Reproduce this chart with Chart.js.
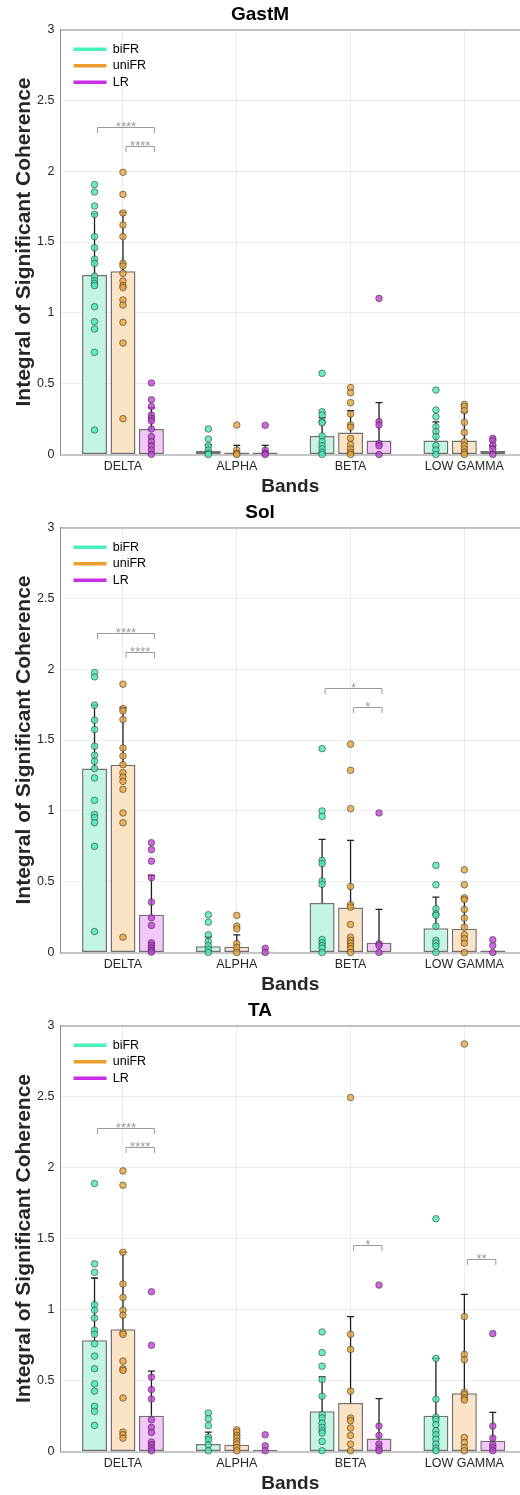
<!DOCTYPE html>
<html>
<head>
<meta charset="utf-8">
<script src="https://cdn.jsdelivr.net/npm/chart.js@4.4.1/dist/chart.umd.min.js"></script>
<style>
html, body { margin: 0; padding: 0; background: #fff; overflow: hidden; }
canvas { display: block; }
</style>
</head>
<body>
<canvas id="gastm" width="520" height="498"></canvas>
<canvas id="sol" width="520" height="498"></canvas>
<canvas id="ta" width="520" height="499"></canvas>
<script>
// ============================================================
// DATA
// ============================================================
const bands = ['DELTA', 'ALPHA', 'BETA', 'LOW GAMMA'];
const groups = ['biFR', 'uniFR', 'LR'];

// --- GastM ---  (rows: biFR, uniFR, LR; columns: bands)
const gastmMean = [
    [1.267, 0.025, 0.131, 0.098],
    [1.293, 0.015, 0.156, 0.098],
    [0.180, 0.015, 0.098, 0.025]
];
const gastmTop = [
    [1.70, 0.07, 0.26, 0.23],
    [1.71, 0.065, 0.31, 0.30],
    [0.33, 0.065, 0.366, 0.06]
];
const gastmBiFR = [
    [1.905, 1.853, 1.754, 1.695, 1.538, 1.460, 1.378, 1.349, 1.260, 1.227, 1.208, 1.192, 1.043, 0.938, 0.886, 0.721, 0.173],
    [0.180, 0.109, 0.062, 0.032, 0.008, 0],
    [0.573, 0.302, 0.279, 0.232, 0.224, 0.131, 0.091, 0.062, 0.039, 0.015, 0],
    [0.455, 0.314, 0.267, 0.196, 0.161, 0.126, 0.062, 0.032, 0]
];
const gastmUniFR = [
    [1.992, 1.836, 1.705, 1.620, 1.538, 1.349, 1.331, 1.279, 1.225, 1.192, 1.178, 1.091, 1.055, 0.933, 0.787, 0.253],
    [0.208, 0.030, 0.008, 0],
    [0.472, 0.436, 0.366, 0.286, 0.208, 0.192, 0.114, 0.070, 0.039, 0.015, 0],
    [0.354, 0.338, 0.309, 0.227, 0.156, 0.091, 0.062, 0.039, 0.015, 0]
];
const gastmLR = [
    [0.505, 0.387, 0.338, 0.279, 0.255, 0.236, 0.180, 0.126, 0.091, 0.062, 0.032, 0.001],
    [0.206, 0.030, 0.008, 0],
    [1.102, 0.232, 0.208, 0.077, 0.062, 0],
    [0.114, 0.098, 0.062, 0.039, 0]
];
// [band, from group, to group, level, label]
const gastmSig = [[0, 0, 2, 2.314, '****'], [0, 1, 2, 2.178, '****']];

// --- Sol ---
const solMean = [
    [1.298, 0.045, 0.349, 0.172],
    [1.326, 0.040, 0.318, 0.167],
    [0.266, 0.005, 0.068, 0.014]
];
const solTop = [
    [1.746, 0.11, 0.799, 0.391],
    [1.729, 0.125, 0.792, 0.386],
    [0.544, 0.005, 0.304, 0.014]
];
const solBiFR = [
    [1.976, 1.946, 1.746, 1.640, 1.574, 1.456, 1.392, 1.350, 1.298, 1.232, 1.074, 0.975, 0.952, 0.916, 0.749, 0.148],
    [0.266, 0.214, 0.125, 0.078, 0.049, 0.020, 0],
    [1.439, 0.999, 0.961, 0.650, 0.627, 0.504, 0.481, 0.092, 0.068, 0.049, 0.031, 0],
    [0.615, 0.478, 0.309, 0.273, 0.262, 0.186, 0.085, 0.066, 0.045, 0]
];
const solUniFR = [
    [1.894, 1.722, 1.706, 1.644, 1.444, 1.387, 1.326, 1.270, 1.239, 1.208, 1.152, 0.985, 0.916, 0.108],
    [0.262, 0.186, 0.167, 0.063, 0.035, 0],
    [1.470, 1.286, 1.015, 0.466, 0.337, 0.320, 0.198, 0.108, 0.085, 0.066, 0.045, 0.026, 0],
    [0.584, 0.478, 0.386, 0.374, 0.304, 0.243, 0.179, 0.125, 0.097, 0.066, 0]
];
const solLR = [
    [0.775, 0.726, 0.645, 0.528, 0.356, 0.245, 0.191, 0.068, 0.049, 0.031, 0.014, 0.002],
    [0.030, 0],
    [0.985, 0.061, 0.049, 0],
    [0.090, 0.049, 0]
];
const solSig = [
    [0, 0, 2, 2.252, '****'], [0, 1, 2, 2.118, '****'],
    [2, 0, 2, 1.868, '*'], [2, 1, 2, 1.734, '*']
];

// --- TA ---
const taMean = [
    [0.783, 0.052, 0.283, 0.252],
    [0.861, 0.047, 0.342, 0.410],
    [0.252, 0.010, 0.092, 0.075]
];
const taTop = [
    [1.222, 0.137, 0.526, 0.656],
    [1.403, 0.120, 0.950, 1.106],
    [0.566, 0.010, 0.373, 0.276]
];
const taBiFR = [
    [1.887, 1.321, 1.262, 1.033, 0.995, 0.939, 0.854, 0.825, 0.759, 0.672, 0.583, 0.476, 0.425, 0.318, 0.283, 0.184],
    [0.271, 0.231, 0.182, 0.101, 0.083, 0.047, 0.005],
    [0.842, 0.696, 0.601, 0.507, 0.389, 0.259, 0.236, 0.200, 0.170, 0.146, 0.130, 0.071, 0.005],
    [1.639, 0.656, 0.368, 0.241, 0.224, 0.189, 0.146, 0.118, 0.087, 0.052, 0.024, 0.005]
];
const taUniFR = [
    [1.976, 1.875, 1.403, 1.179, 1.085, 0.995, 0.960, 0.837, 0.825, 0.637, 0.583, 0.571, 0.377, 0.137, 0.118, 0.094],
    [0.153, 0.137, 0.113, 0.094, 0.071, 0.052, 0.028, 0.005],
    [2.493, 0.825, 0.719, 0.425, 0.236, 0.217, 0.165, 0.113, 0.052, 0.005],
    [2.870, 0.950, 0.684, 0.646, 0.417, 0.401, 0.377, 0.363, 0.099, 0.064, 0.028, 0.005]
];
const taLR = [
    [1.125, 0.748, 0.524, 0.436, 0.370, 0.224, 0.170, 0.134, 0.066, 0.047, 0.024, 0.005],
    [0.118, 0.040, 0.005],
    [1.172, 0.179, 0.113, 0.052, 0.024, 0.005],
    [0.830, 0.179, 0.094, 0.047, 0.028, 0.005]
];
const taSig = [
    [0, 0, 2, 2.281, '****'], [0, 1, 2, 2.144, '****'],
    [2, 1, 2, 1.453, '*'], [3, 1, 2, 1.356, '**']
];

// ============================================================
// STYLE
// ============================================================
const FONT = "'Liberation Sans', Arial, Helvetica, sans-serif";
const lineCols = ['rgb(72,240,190)', 'rgb(234,158,44)', 'rgb(200,45,228)'];
const fillCols = ['rgb(194,245,226)', 'rgb(251,228,197)', 'rgb(245,198,249)'];
const dotCols = ['rgba(72,232,184,0.8)', 'rgba(233,164,58,0.8)', 'rgba(196,64,218,0.8)'];
const groupShift = [-0.25, 0, 0.25]; // matches categoryPercentage 0.75 below

Chart.defaults.font.family = FONT;
Chart.defaults.color = '#262626';

// ============================================================
// CHART BUILDER
// ============================================================
function makePanel(id, title, mean, top, pts, sig) {
    const barSets = groups.map((g, gi) => ({
        type: 'bar',
        label: g,
        data: mean[gi].map((v, bi) => ({ x: bi + 1, y: v })),
        backgroundColor: fillCols[gi],
        borderColor: 'rgba(60,60,60,0.72)',
        borderWidth: 1.5,
        borderSkipped: false,
        categoryPercentage: 0.75,
        barPercentage: 0.877,
        order: 2
    }));
    const dotSets = groups.map((g, gi) => ({
        type: 'scatter',
        label: g + ' subjects',
        data: pts[gi].flatMap((arr, bi) => arr.map(v => ({ x: bi + 1 + groupShift[gi], y: v }))),
        backgroundColor: dotCols[gi],
        borderColor: 'rgba(45,45,45,0.7)',
        borderWidth: 0.8,
        pointRadius: 3.3,
        clip: false,
        order: 1
    }));

    // error bars go above the bars but under the dots
    const errorBars = {
        id: 'errorBars',
        afterDatasetDraw(chart, args) {
            if (args.index !== 0) return;
            const ys = chart.scales.y;
            const ctx = chart.ctx;
            ctx.save();
            ctx.strokeStyle = '#1e1e1e';
            ctx.lineWidth = 1.3;
            top.forEach((row, gi) => {
                const bars = chart.getDatasetMeta(gi).data;
                row.forEach((t, bi) => {
                    if (t <= mean[gi][bi]) return;
                    const x = bars[bi].x;
                    const y0 = ys.getPixelForValue(mean[gi][bi]);
                    const y1 = ys.getPixelForValue(t);
                    ctx.beginPath();
                    ctx.moveTo(x, y0);
                    ctx.lineTo(x, y1);
                    ctx.moveTo(x - 3.5, y1);
                    ctx.lineTo(x + 3.5, y1);
                    ctx.stroke();
                });
            });
            ctx.restore();
        }
    };

    const extras = {
        id: 'extras',
        afterLayout(chart) {
            // nudge the in-plot legend like MATLAB's 'northwest' box
            const lg = chart.legend;
            if (lg) {
                lg.left = chart.chartArea.left + 9;
                lg.top = chart.chartArea.top + 9.5;
            }
        },
        afterDatasetsDraw(chart) {
            const ctx = chart.ctx;
            const ca = chart.chartArea;
            const ys = chart.scales.y;
            ctx.save();
            // top box edge
            ctx.strokeStyle = '#8c8c8c';
            ctx.lineWidth = 1;
            ctx.beginPath();
            ctx.moveTo(ca.left, ca.top + 0.5);
            ctx.lineTo(ca.right, ca.top + 0.5);
            ctx.stroke();
            // significance brackets
            sig.forEach(([bi, ga, gb, lvl, stars]) => {
                const xa = chart.getDatasetMeta(ga).data[bi].x + 3;
                const xb = chart.getDatasetMeta(gb).data[bi].x + 3;
                const y = Math.round(ys.getPixelForValue(lvl)) + 0.5;
                ctx.strokeStyle = '#9a9a9a';
                ctx.lineWidth = 1;
                ctx.beginPath();
                ctx.moveTo(xa, y + 5.5);
                ctx.lineTo(xa, y);
                ctx.lineTo(xb, y);
                ctx.lineTo(xb, y + 5.5);
                ctx.stroke();
                ctx.fillStyle = '#999';
                ctx.font = '13px ' + FONT;
                ctx.textAlign = 'center';
                ctx.textBaseline = 'alphabetic';
                ctx.fillText(stars, (xa + xb) / 2, y + 3);
            });
            ctx.restore();
        }
    };

    return new Chart(document.getElementById(id), {
        type: 'bar',
        data: { datasets: [...barSets, ...dotSets] },
        options: {
            responsive: false,
            animation: false,
            events: [],
            layout: { padding: 0, autoPadding: false },
            scales: {
                x: {
                    type: 'linear',
                    offset: false,
                    min: 0.451,
                    max: 4.489,
                    afterBuildTicks: s => { s.ticks = bands.map((b, i) => ({ value: i + 1 })); },
                    ticks: {
                        callback: v => bands[v - 1],
                        font: { size: 12.5 },
                        color: '#262626',
                        padding: 5,
                        autoSkip: false,
                        maxRotation: 0
                    },
                    grid: { color: 'rgba(0,0,0,0.07)', drawTicks: false, offset: false },
                    border: { color: '#c6c6c6', width: 2 },
                    title: {
                        display: true,
                        text: 'Bands',
                        font: { size: 19, weight: 'bold' },
                        color: '#262626',
                        padding: { top: 0, bottom: 0 }
                    },
                    afterFit: s => {
                        s.height = 43.5;
                        s.paddingLeft = 0;
                        s.paddingRight = 0;
                    }
                },
                y: {
                    min: 0,
                    max: 3,
                    ticks: {
                        stepSize: 0.5,
                        callback: v => String(Math.round(v * 10) / 10),
                        font: { size: 12.5 },
                        color: '#262626',
                        padding: 6
                    },
                    grid: { color: 'rgba(0,0,0,0.07)', drawTicks: false },
                    border: { color: '#8c8c8c', width: 1 },
                    title: {
                        display: true,
                        text: 'Integral of Significant Coherence',
                        font: { size: 21, weight: 'bold' },
                        color: '#262626',
                        padding: { top: 12, bottom: 0 }
                    },
                    afterFit: s => {
                        s.width = 60.5;
                        s.paddingTop = 0;
                        s.paddingBottom = 0;
                    }
                }
            },
            plugins: {
                title: {
                    display: true,
                    text: title,
                    font: { size: 19, weight: 'bold' },
                    color: '#000',
                    padding: { top: 3, bottom: 3.7 }
                },
                legend: {
                    display: true,
                    position: 'chartArea',
                    align: 'start',
                    labels: {
                        usePointStyle: true,
                        pointStyleWidth: 33,
                        font: { size: 12.5 },
                        color: '#000',
                        padding: 4,
                        generateLabels: () => groups.map((g, gi) => ({
                            text: g,
                            fillStyle: lineCols[gi],
                            strokeStyle: lineCols[gi],
                            lineWidth: 3.5,
                            pointStyle: 'line',
                            hidden: false,
                            datasetIndex: gi
                        }))
                    }
                },
                tooltip: { enabled: false }
            }
        },
        plugins: [errorBars, extras]
    });
}

makePanel('gastm', 'GastM', gastmMean, gastmTop, [gastmBiFR, gastmUniFR, gastmLR], gastmSig);
makePanel('sol', 'Sol', solMean, solTop, [solBiFR, solUniFR, solLR], solSig);
makePanel('ta', 'TA', taMean, taTop, [taBiFR, taUniFR, taLR], taSig);
</script>
</body>
</html>
